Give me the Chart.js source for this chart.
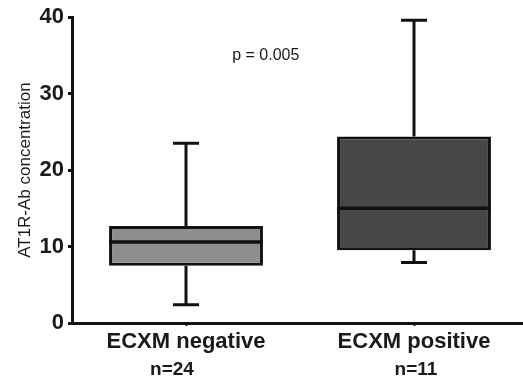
<!DOCTYPE html>
<html>
<head>
<meta charset="utf-8">
<script src="https://cdn.jsdelivr.net/npm/chart.js@4.4.0/dist/chart.umd.min.js"></script>
<style>
html, body { margin: 0; padding: 0; background: #fff; overflow: hidden; }
#wrap { width: 528px; height: 386px; }
</style>
</head>
<body>
<div id="wrap"><canvas id="box-chart" width="528" height="386"></canvas></div>
<script>
// values
const groups = ['ECXM negative', 'ECXM positive'];
const groupN = ['n=24', 'n=11'];
const whiskerMin = [2.4, 7.9];
const q1 = [7.5, 9.5];
const median = [10.6, 15.0];
const q3 = [12.7, 24.4];
const whiskerMax = [23.5, 39.6];
const boxColors = ['#8e8e8e', '#474747'];
const yTicks = [0, 10, 20, 30, 40];
const pText = 'p = 0.005';

const FONT = 'Arial, "Liberation Sans", sans-serif';
const INK = '#111';

// whiskers, caps, medians and the extra texts
const boxExtras = {
    id: 'boxExtras',
    afterDatasetsDraw(chart) {
        const { ctx, scales: { x, y } } = chart;
        const bars = chart.getDatasetMeta(0).data;
        const nShift = [-14, 2];
        ctx.save();
        ctx.strokeStyle = INK;
        ctx.lineWidth = 3;
        groups.forEach((g, i) => {
            const cx = x.getPixelForValue(i);
            const half = bars[i].width / 2;
            const cap = 13;
            const yMax = y.getPixelForValue(whiskerMax[i]);
            const yMin = y.getPixelForValue(whiskerMin[i]);
            ctx.beginPath();
            ctx.moveTo(cx, y.getPixelForValue(q3[i]));
            ctx.lineTo(cx, yMax);
            ctx.moveTo(cx - cap, yMax);
            ctx.lineTo(cx + cap, yMax);
            ctx.moveTo(cx, y.getPixelForValue(q1[i]));
            ctx.lineTo(cx, yMin);
            ctx.moveTo(cx - cap, yMin);
            ctx.lineTo(cx + cap, yMin);
            ctx.stroke();
            ctx.beginPath();
            ctx.lineWidth = 3.5;
            ctx.moveTo(bars[i].x - half, y.getPixelForValue(median[i]));
            ctx.lineTo(bars[i].x + half, y.getPixelForValue(median[i]));
            ctx.stroke();
            ctx.lineWidth = 3;
            // sample sizes under the category labels
            ctx.fillStyle = '#1a1a1a';
            ctx.font = 'bold 19px ' + FONT;
            ctx.textAlign = 'center';
            ctx.textBaseline = 'middle';
            ctx.fillText(groupN[i], cx + nShift[i], x.top + 47);
        });
        ctx.font = '16px ' + FONT;
        ctx.fillStyle = '#1a1a1a';
        ctx.textAlign = 'center';
        ctx.textBaseline = 'middle';
        ctx.fillText(pText, x.getPixelForValue(0.35), y.getPixelForValue(35));
        ctx.restore();
    }
};

new Chart(document.getElementById('box-chart'), {
    type: 'bar',
    data: {
        labels: groups,
        datasets: [{
            data: groups.map((g, i) => [q1[i], q3[i]]),
            backgroundColor: boxColors,
            borderColor: INK,
            borderWidth: 3,
            borderSkipped: false,
            barPercentage: 0.675,
            categoryPercentage: 1,
        }],
    },
    options: {
        responsive: false,
        animation: false,
        layout: { padding: { top: 16, right: 0, left: 0, bottom: 0 } },
        plugins: {
            legend: { display: false },
            tooltip: { enabled: false },
        },
        scales: {
            x: {
                grid: { offset: false, drawOnChartArea: false, tickLength: 3, tickWidth: 2, tickColor: INK },
                border: { color: INK, width: 3 },
                ticks: {
                    color: '#1a1a1a',
                    padding: 3,
                    maxRotation: 0,
                    font: { family: FONT, size: 22, weight: 'bold' },
                },
                afterFit(s) { s.height = 63; },
            },
            y: {
                min: 0,
                max: 40,
                afterBuildTicks(s) { s.ticks = yTicks.map(v => ({ value: v })); },
                grid: { drawOnChartArea: false, tickLength: 4, tickWidth: 3, tickColor: INK },
                border: { color: INK, width: 3 },
                ticks: {
                    color: '#1a1a1a',
                    padding: 4,
                    font: { family: FONT, size: 22, weight: 'bold' },
                },
                title: {
                    display: true,
                    text: 'AT1R-Ab concentration',
                    color: '#1a1a1a',
                    padding: { top: 15, bottom: 0 },
                    font: { family: FONT, size: 17 },
                },
                afterFit(s) { s.width = 72; },
            },
        },
    },
    plugins: [boxExtras],
});
</script>
</body>
</html>
